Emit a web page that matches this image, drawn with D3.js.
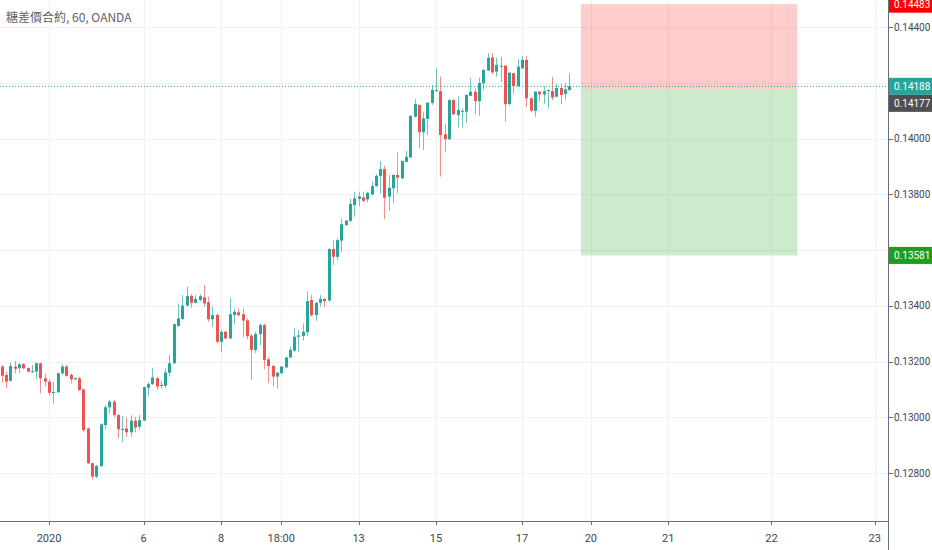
<!DOCTYPE html>
<html>
  <head>
    <meta charset="utf-8">
    <style>
      body {
        margin: 0;
        background: #ffffff;
        font-family: "Roboto", "Noto Sans CJK TC", sans-serif;
      }
      svg { display: block; }
    </style>
  </head>
  <body>
    <div id="main-viz"></div>

    <script src="https://d3js.org/d3.v7.min.js"></script>
    <script>

    // hourly candles
    var candleOpen = [
      0.13182, 0.13152, 0.13131, 0.13182, 0.13176, 0.13191, 0.13177, 0.13164, 0.13164, 0.13194,
      0.13140, 0.13128, 0.13088, 0.13090, 0.13158, 0.13182, 0.13152, 0.13136, 0.13140, 0.13100,
      0.12960, 0.12835, 0.12787, 0.12825, 0.12972, 0.13036, 0.13056, 0.13008, 0.12956, 0.12960,
      0.12946, 0.12988, 0.12966, 0.12988, 0.13106, 0.13119, 0.13140, 0.13115, 0.13113, 0.13160,
      0.13194, 0.13328, 0.13353, 0.13401, 0.13435, 0.13411, 0.13421, 0.13431, 0.13413, 0.13352,
      0.13367, 0.13271, 0.13307, 0.13283, 0.13367, 0.13377, 0.13370, 0.13348, 0.13293, 0.13242,
      0.13299, 0.13331, 0.13208, 0.13184, 0.13146, 0.13158, 0.13179, 0.13215, 0.13239, 0.13289,
      0.13292, 0.13305, 0.13421, 0.13367, 0.13411, 0.13425, 0.13419, 0.13604, 0.13576, 0.13634,
      0.13690, 0.13705, 0.13762, 0.13784, 0.13789, 0.13782, 0.13800, 0.13830, 0.13866, 0.13891,
      0.13792, 0.13822, 0.13870, 0.13858, 0.13917, 0.13933, 0.14079, 0.14121, 0.14023, 0.14071,
      0.14129, 0.14171, 0.14171, 0.14016, 0.13998, 0.14139, 0.14085, 0.14097, 0.14097, 0.14154,
      0.14169, 0.14135, 0.14199, 0.14245, 0.14292, 0.14241, 0.14259, 0.14262, 0.14125, 0.14235,
      0.14189, 0.14253, 0.14283, 0.14145, 0.14100, 0.14169, 0.14159, 0.14171, 0.14171, 0.14151,
      0.14182, 0.14161, 0.14175
    ];
    var candleHigh = [
      0.13188, 0.13164, 0.13196, 0.13202, 0.13194, 0.13194, 0.13179, 0.13188, 0.13196, 0.13196,
      0.13158, 0.13136, 0.13128, 0.13161, 0.13190, 0.13188, 0.13158, 0.13143, 0.13146, 0.13104,
      0.12964, 0.12837, 0.12829, 0.12978, 0.13044, 0.13062, 0.13062, 0.13012, 0.13005, 0.12998,
      0.13008, 0.13002, 0.13008, 0.13110, 0.13126, 0.13178, 0.13146, 0.13130, 0.13176, 0.13224,
      0.13337, 0.13409, 0.13439, 0.13469, 0.13442, 0.13439, 0.13442, 0.13475, 0.13433, 0.13397,
      0.13373, 0.13313, 0.13310, 0.13427, 0.13391, 0.13391, 0.13391, 0.13356, 0.13299, 0.13307,
      0.13337, 0.13337, 0.13215, 0.13188, 0.13163, 0.13184, 0.13218, 0.13253, 0.13319, 0.13313,
      0.13337, 0.13451, 0.13439, 0.13415, 0.13439, 0.13428, 0.13606, 0.13636, 0.13643, 0.13714,
      0.13708, 0.13786, 0.13810, 0.13810, 0.13810, 0.13810, 0.13846, 0.13873, 0.13920, 0.13903,
      0.13870, 0.13872, 0.13953, 0.13922, 0.13956, 0.14085, 0.14143, 0.14123, 0.14097, 0.14132,
      0.14193, 0.14253, 0.14223, 0.14052, 0.14141, 0.14143, 0.14151, 0.14109, 0.14159, 0.14219,
      0.14181, 0.14219, 0.14250, 0.14307, 0.14307, 0.14291, 0.14294, 0.14265, 0.14241, 0.14237,
      0.14286, 0.14297, 0.14297, 0.14148, 0.14171, 0.14170, 0.14189, 0.14177, 0.14222, 0.14197,
      0.14198, 0.14201, 0.14234
    ];
    var candleLow = [
      0.13124, 0.13105, 0.13128, 0.13158, 0.13158, 0.13172, 0.13161, 0.13158, 0.13136, 0.13086,
      0.13110, 0.13080, 0.13048, 0.13087, 0.13152, 0.13146, 0.13122, 0.13133, 0.13094, 0.12948,
      0.12832, 0.12777, 0.12781, 0.12822, 0.12957, 0.13014, 0.13000, 0.12925, 0.12911, 0.12930,
      0.12930, 0.12946, 0.12954, 0.12987, 0.13074, 0.13116, 0.13098, 0.13104, 0.13104, 0.13146,
      0.13191, 0.13325, 0.13349, 0.13398, 0.13393, 0.13409, 0.13415, 0.13397, 0.13343, 0.13322,
      0.13266, 0.13233, 0.13280, 0.13281, 0.13334, 0.13361, 0.13289, 0.13280, 0.13134, 0.13230,
      0.13259, 0.13172, 0.13123, 0.13112, 0.13104, 0.13155, 0.13177, 0.13212, 0.13235, 0.13235,
      0.13275, 0.13292, 0.13361, 0.13346, 0.13397, 0.13395, 0.13416, 0.13547, 0.13565, 0.13594,
      0.13687, 0.13701, 0.13720, 0.13758, 0.13773, 0.13772, 0.13798, 0.13827, 0.13804, 0.13711,
      0.13741, 0.13768, 0.13804, 0.13855, 0.13915, 0.13931, 0.14076, 0.13966, 0.13960, 0.14013,
      0.14121, 0.14168, 0.13864, 0.13951, 0.13995, 0.14085, 0.14040, 0.14040, 0.14055, 0.14152,
      0.14088, 0.14082, 0.14175, 0.14243, 0.14232, 0.14223, 0.14203, 0.14061, 0.14119, 0.14163,
      0.14186, 0.14250, 0.14114, 0.14096, 0.14079, 0.14133, 0.14125, 0.14109, 0.14139, 0.14148,
      0.14123, 0.14141, 0.14171
    ];
    var candleClose = [
      0.13149, 0.13128, 0.13184, 0.13174, 0.13190, 0.13176, 0.13164, 0.13166, 0.13194, 0.13140,
      0.13128, 0.13088, 0.13091, 0.13158, 0.13182, 0.13149, 0.13136, 0.13140, 0.13098, 0.12954,
      0.12835, 0.12787, 0.12825, 0.12975, 0.13036, 0.13056, 0.13008, 0.12957, 0.12958, 0.12946,
      0.12988, 0.12963, 0.12990, 0.13108, 0.13119, 0.13143, 0.13110, 0.13116, 0.13161, 0.13194,
      0.13334, 0.13355, 0.13401, 0.13435, 0.13411, 0.13425, 0.13435, 0.13409, 0.13352, 0.13367,
      0.13271, 0.13307, 0.13283, 0.13370, 0.13379, 0.13367, 0.13347, 0.13291, 0.13242, 0.13299,
      0.13331, 0.13206, 0.13184, 0.13146, 0.13160, 0.13182, 0.13215, 0.13242, 0.13289, 0.13294,
      0.13307, 0.13417, 0.13367, 0.13411, 0.13425, 0.13417, 0.13604, 0.13576, 0.13636, 0.13693,
      0.13706, 0.13766, 0.13786, 0.13793, 0.13777, 0.13806, 0.13830, 0.13867, 0.13891, 0.13788,
      0.13824, 0.13870, 0.13860, 0.13920, 0.13935, 0.14082, 0.14124, 0.14023, 0.14073, 0.14129,
      0.14175, 0.14175, 0.14013, 0.13998, 0.14139, 0.14088, 0.14103, 0.14100, 0.14157, 0.14169,
      0.14135, 0.14200, 0.14247, 0.14290, 0.14238, 0.14265, 0.14262, 0.14124, 0.14237, 0.14189,
      0.14259, 0.14283, 0.14145, 0.14101, 0.14169, 0.14159, 0.14171, 0.14175, 0.14148, 0.14182,
      0.14157, 0.14177, 0.14188
    ];

    // time axis: bar index of each label
    var timeTickBars = [11, 33, 51, 65, 83, 101, 121, 137, 155, 179, 203];
    var timeTickLabels = ["2020", "6", "8", "18:00", "13", "15", "17", "20", "21", "22", "23"];

    var priceTicks = [0.128, 0.130, 0.132, 0.134, 0.136, 0.138, 0.140, 0.142, 0.144];

    // short position tool
    var positionStop = 0.14483;
    var positionEntry = 0.14177;
    var positionTarget = 0.13581;
    var positionStartBar = 134.7;
    var positionEndBar = 185;

    var lastPrice = 0.14188;
    var chartTitle = "糖差價合約, 60, OANDA";

    var W = 932, H = 550;
    var plotW = 888, plotH = 521;

    var upColor = "#26a69a", downColor = "#ef5350", gridColor = "#eef1f5";
    var priceFont = "10px";

    var svg = d3.select("#main-viz")
      .append("svg")
        .attr("width", W)
        .attr("height", H);

    var x = d3.scaleLinear()
      .domain([-0.4, 206.1])
      .range([0, plotW]);

    var y = d3.scaleLinear()
      .domain([0.128, 0.144])
      .range([473, 27.3]);

    var plot = svg.append("g");

    // grid
    plot.selectAll(".hgrid")
      .data(priceTicks)
      .enter().append("line")
        .attr("x1", 0).attr("x2", plotW)
        .attr("y1", function (d) { return Math.round(y(d)) + 0.5; })
        .attr("y2", function (d) { return Math.round(y(d)) + 0.5; })
        .style("stroke", gridColor);

    plot.selectAll(".vgrid")
      .data(timeTickBars)
      .enter().append("line")
        .attr("y1", 0).attr("y2", plotH)
        .attr("x1", function (d) { return Math.round(x(d)) + 0.5; })
        .attr("x2", function (d) { return Math.round(x(d)) + 0.5; })
        .style("stroke", gridColor);

    // position box
    plot.append("rect")
      .attr("x", x(positionStartBar))
      .attr("width", x(positionEndBar) - x(positionStartBar))
      .attr("y", y(positionStop))
      .attr("height", y(positionEntry) - y(positionStop))
      .style("fill", "#ff0000")
      .style("opacity", 0.2);

    plot.append("rect")
      .attr("x", x(positionStartBar))
      .attr("width", x(positionEndBar) - x(positionStartBar))
      .attr("y", y(positionEntry))
      .attr("height", y(positionTarget) - y(positionEntry))
      .style("fill", "#009900")
      .style("opacity", 0.2);

    // candles
    var bars = d3.range(candleOpen.length);
    function barColor(i) {
      return candleClose[i] >= candleOpen[i] ? upColor : downColor;
    }

    plot.append("g")
      .selectAll("line")
      .data(bars)
      .enter().append("line")
        .attr("x1", function (i) { return Math.round(x(i)) + 0.5; })
        .attr("x2", function (i) { return Math.round(x(i)) + 0.5; })
        .attr("y1", function (i) { return y(candleHigh[i]); })
        .attr("y2", function (i) { return y(candleLow[i]); })
        .style("stroke", barColor)
        .style("stroke-opacity", 0.65);

    plot.append("g")
      .selectAll("rect")
      .data(bars)
      .enter().append("rect")
        .attr("x", function (i) { return Math.round(x(i)) - 1; })
        .attr("width", 3)
        .attr("y", function (i) { return y(Math.max(candleOpen[i], candleClose[i])); })
        .attr("height", function (i) {
          return Math.max(1, Math.abs(y(candleOpen[i]) - y(candleClose[i])));
        })
        .style("fill", barColor);

    // last price line
    plot.append("line")
      .attr("x1", 0).attr("x2", plotW)
      .attr("y1", y(lastPrice)).attr("y2", y(lastPrice))
      .style("stroke", upColor)
      .style("stroke-dasharray", "1,2");

    // title
    svg.append("text")
      .attr("x", 6)
      .attr("y", 22)
      .text(chartTitle)
      .style("font-family", "'Noto Sans CJK TC', sans-serif")
      .style("font-size", "12px")
      .style("fill", "#5d606b");

    // axis frame
    svg.append("line")
      .attr("x1", 0).attr("x2", plotW)
      .attr("y1", plotH + 0.5).attr("y2", plotH + 0.5)
      .style("stroke", "#6a6d78");
    svg.append("line")
      .attr("x1", plotW + 0.5).attr("x2", plotW + 0.5)
      .attr("y1", 0).attr("y2", H)
      .style("stroke", "#6a6d78");

    // price labels (stacked so they do not overlap)
    var priceLabels = [
      { v: positionStop, c: "#ff0000" },
      { v: lastPrice, c: upColor },
      { v: positionEntry, c: "#4f4f4f" },
      { v: positionTarget, c: "#1e9e1e" }
    ];
    var labelH = 17, prevBottom = -Infinity;
    priceLabels.forEach(function (d) {
      var top = y(d.v) - labelH / 2;
      if (top < prevBottom) top = prevBottom;
      d.top = top;
      prevBottom = top + labelH;
    });

    // right axis ticks, hidden when a price label sits on them
    var shownTicks = priceTicks.filter(function (t) {
      return priceLabels.every(function (d) {
        return y(t) < d.top - 4 || y(t) > d.top + labelH + 4;
      });
    });

    svg.append("g")
      .selectAll("line")
      .data(shownTicks)
      .enter().append("line")
        .attr("x1", plotW).attr("x2", plotW + 5)
        .attr("y1", function (d) { return Math.round(y(d)) + 0.5; })
        .attr("y2", function (d) { return Math.round(y(d)) + 0.5; })
        .style("stroke", "#6a6d78");

    svg.append("g")
      .selectAll("text")
      .data(shownTicks)
      .enter().append("text")
        .attr("x", plotW + 6)
        .attr("y", function (d) { return y(d) + 3.5; })
        .text(function (d) { return d3.format(".5f")(d); })
        .style("font-size", priceFont)
        .style("fill", "#434651");

    var lab = svg.append("g")
      .selectAll("g")
      .data(priceLabels)
      .enter().append("g");
    lab.append("rect")
      .attr("x", plotW + 1)
      .attr("y", function (d) { return d.top; })
      .attr("width", W - plotW - 1)
      .attr("height", labelH)
      .style("fill", function (d) { return d.c; });
    lab.append("text")
      .attr("x", plotW + 6)
      .attr("y", function (d) { return d.top + labelH / 2 + 3.5; })
      .text(function (d) { return d3.format(".5f")(d.v); })
      .style("font-size", priceFont)
      .style("fill", "#ffffff");

    // time axis
    svg.append("g")
      .selectAll("line")
      .data(timeTickBars)
      .enter().append("line")
        .attr("x1", function (d) { return Math.round(x(d)) + 0.5; })
        .attr("x2", function (d) { return Math.round(x(d)) + 0.5; })
        .attr("y1", plotH).attr("y2", plotH + 4)
        .style("stroke", "#6a6d78");

    svg.append("g")
      .selectAll("text")
      .data(timeTickBars)
      .enter().append("text")
        .attr("x", function (d) { return x(d); })
        .attr("y", 542)
        .style("text-anchor", "middle")
        .text(function (d, i) { return timeTickLabels[i]; })
        .style("font-size", "11px")
        .style("fill", "#434651");

    </script>
  </body>
</html>
